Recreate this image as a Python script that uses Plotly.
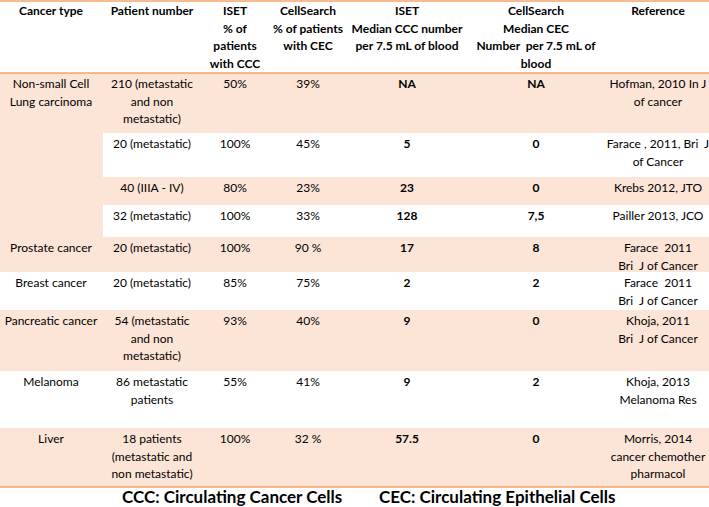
import plotly.graph_objects as go

# table content, one list per column
headers = ["Cancer type", "Patient number", "ISET<br>% of<br>patients<br>with CCC",
           "CellSearch<br>% of patients<br>with CEC",
           "ISET<br>Median CCC number<br>per 7.5 mL of blood",
           "CellSearch<br>Median CEC<br>Number  per 7.5 mL of<br>blood",
           "Reference"]
cancer_type = ["Non-small Cell<br>Lung carcinoma", "", "", "", "Prostate cancer", "Breast cancer",
               "Pancreatic cancer", "Melanoma", "Liver"]
patient_number = ["210 (metastatic<br>and non<br>metastatic)", "20 (metastatic)", "40 (IIIA - IV)",
                  "32 (metastatic)", "20 (metastatic)", "20 (metastatic)",
                  "54 (metastatic<br>and non<br>metastatic)", "86 metastatic<br>patients",
                  "18 patients<br>(metastatic and<br>non metastatic)"]
iset_pct = ["50%", "100%", "80%", "100%", "100%", "85%", "93%", "55%", "100%"]
cellsearch_pct = ["39%", "45%", "23%", "33%", "90 %", "75%", "40%", "41%", "32 %"]
iset_median = ["NA", "5", "23", "128", "17", "2", "9", "9", "57.5"]
cellsearch_median = ["NA", "0", "0", "7,5", "8", "2", "0", "2", "0"]
reference = ["Hofman, 2010 In J<br>of cancer", "Farace , 2011, Bri  J<br>of Cancer", "Krebs 2012, JTO",
             "Pailler 2013, JCO", "Farace  2011<br>Bri  J of Cancer", "Farace  2011<br>Bri  J of Cancer",
             "Khoja, 2011<br>Bri  J of Cancer", "Khoja, 2013<br>Melanoma Res",
             "Morris, 2014<br>cancer chemother<br>pharmacol"]
footnotes = ["CCC: Circulating Cancer Cells", "CEC: Circulating Epithelial Cells"]

columns = [cancer_type, patient_number, iset_pct, cellsearch_pct, iset_median, cellsearch_median, reference]
bold_cols = [False, False, False, False, True, True, False]

# layout (pixels)
W, H = 709, 507
col_x = [51, 152, 235, 308, 407, 536, 658]
first_col_right = 103
header_top, header_bottom = 1, 73
row_h = [60, 44, 28, 32, 35, 38, 61, 57, 59]
line_gap = 17.5
text_off = 12
shade = '#FCE4D6'
rule = '#F4A56A'
font = 'Lato, Open Sans, sans-serif'

row_top = [header_bottom]
for h in row_h:
    row_top.append(row_top[-1] + h)

fig = go.Figure()
shapes = []

# banded rows; the first column keeps the band of the row where its group starts
group_start = 0
for i in range(len(row_h)):
    if cancer_type[i]:
        group_start = i
    if i % 2 == 0:
        shapes.append(dict(type='rect', xref='x', yref='y', x0=0, x1=W, y0=row_top[i], y1=row_top[i + 1],
                           fillcolor=shade, line_width=0, layer='below'))
    elif group_start % 2 == 0:
        shapes.append(dict(type='rect', xref='x', yref='y', x0=0, x1=first_col_right, y0=row_top[i],
                           y1=row_top[i + 1], fillcolor=shade, line_width=0, layer='below'))

for y in [header_top, header_bottom, row_top[-1]]:
    shapes.append(dict(type='line', xref='x', yref='y', x0=0, x1=W, y0=y, y1=y,
                       line=dict(color=rule, width=1.5)))


def add_text(xs, ys, texts, bold):
    fig.add_trace(go.Scatter(
        x=xs, y=ys, text=texts, mode='text', textposition='middle center', cliponaxis=False,
        textfont=dict(family=font, size=12, color='black', weight='bold' if bold else 'normal'),
        hoverinfo='skip', showlegend=False))


# header
hx, hy, ht = [], [], []
for c, label in enumerate(headers):
    for k, part in enumerate(label.split('<br>')):
        hx.append(col_x[c])
        hy.append(header_top + text_off - 1 + k * line_gap)
        ht.append(part)
add_text(hx, hy, ht, True)

# body
for c, col in enumerate(columns):
    xs, ys, ts = [], [], []
    for i, cell in enumerate(col):
        if not cell:
            continue
        for k, part in enumerate(cell.split('<br>')):
            xs.append(col_x[c])
            ys.append(row_top[i] + text_off + k * line_gap)
            ts.append(part)
    add_text(xs, ys, ts, bold_cols[c])

for x, note in zip([232, 497], footnotes):
    fig.add_annotation(x=x, y=496, xref='x', yref='y', text=note, showarrow=False,
                       font=dict(family=font, size=17, color='black', weight='bold'))

fig.update_layout(
    width=W, height=H,
    margin=dict(l=0, r=0, t=0, b=0),
    paper_bgcolor='white',
    plot_bgcolor='white',
    shapes=shapes,
)
fig.update_xaxes(range=[0, W], visible=False, fixedrange=True)
fig.update_yaxes(range=[H, 0], visible=False, fixedrange=True)

# page margin off so the 709x507 figure fills the window
fig.write_html("out.html", config={'displayModeBar': False},
               post_script="document.body.style.margin='0';document.body.style.overflow='hidden';")
